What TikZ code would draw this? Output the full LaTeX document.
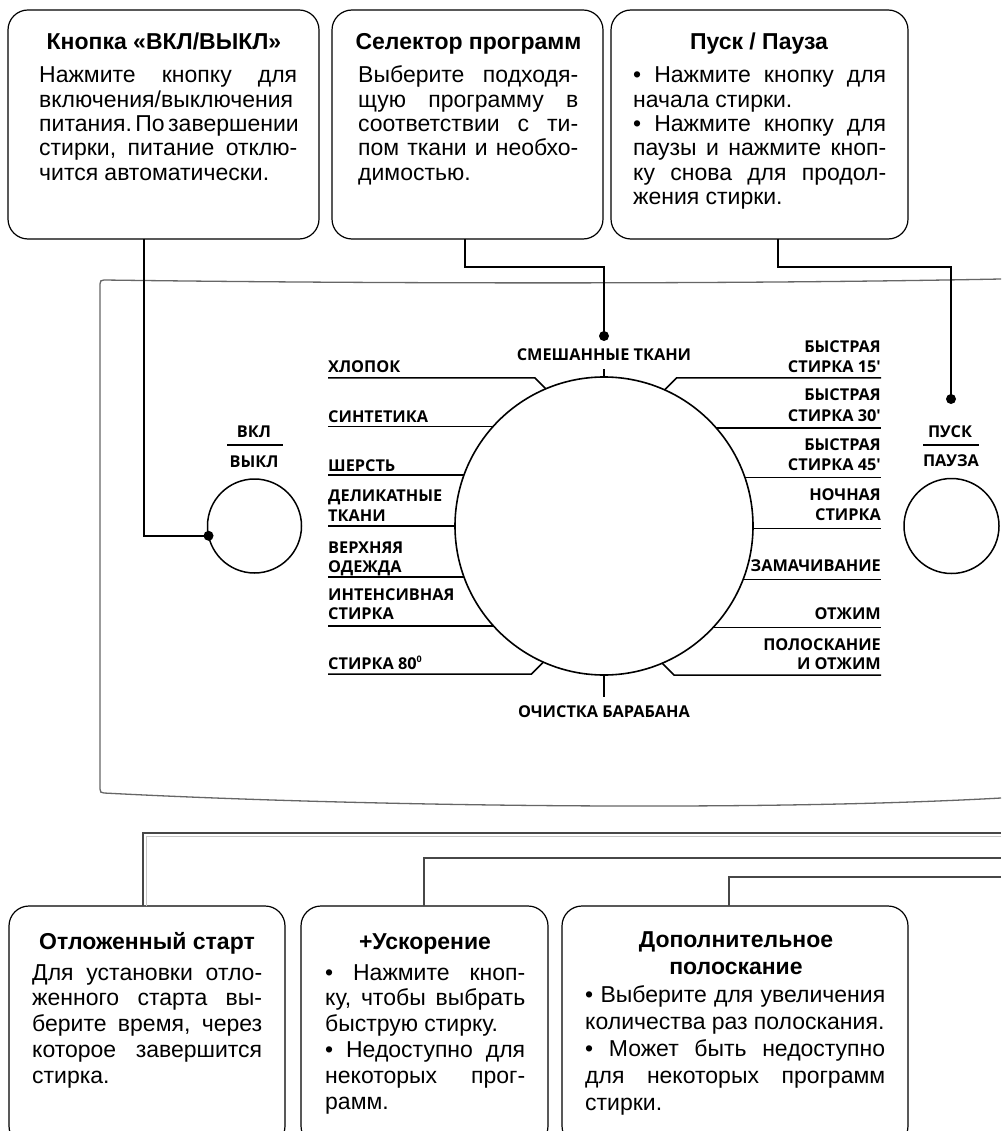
\documentclass[tikz,border=0pt]{standalone}
\usepackage{fontspec}
\setmainfont{Liberation Sans}
\newfontfamily\dialfont{Open Sans}
\newcommand\bodysetup{\tolerance=10000 \hyphenpenalty=10000 \frenchspacing\parindent=0pt \spaceskip=0.27em plus 0.8em minus 0.12em }
\begin{document}
\begin{tikzpicture}[x=1pt,y=-1pt,
  box/.style={draw, line width=1.2pt, rounded corners=20pt, inner sep=0pt, outer sep=0pt, anchor=north west},
  ttl/.style={font={\bfseries\fontsize{23}{24}\selectfont}, anchor=base, inner sep=0pt},
  bodytxt/.style={font={\fontsize{23}{24.3}\selectfont\bodysetup}, align=justify, anchor=base west, inner sep=0pt},
  bodytxtb/.style={font={\fontsize{23}{25.8}\selectfont\bodysetup}, align=justify, anchor=base west, inner sep=0pt},
  bodytxtc/.style={font={\fontsize{23}{27}\selectfont\bodysetup}, align=justify, anchor=base west, inner sep=0pt},
  lbl/.style={font={\dialfont\bfseries\fontsize{16.3}{19}\selectfont}, inner sep=0pt},
  lw/.style={lbl, anchor=base west},
  le/.style={lbl, anchor=base east},
  lc/.style={lbl, anchor=base},
  dline/.style={line width=1.6pt},
  conn/.style={line width=2pt},
  dot/.style={circle, fill, inner sep=0pt, minimum size=10pt},
  lowconn/.style={line width=1.5pt, black!72},
  lowlight/.style={line width=0.8pt, gray!45},
  panel/.style={line width=1.3pt, black!60},
  knob/.style={circle, draw, line width=1.5pt, inner sep=0pt, outer sep=0pt},
]
\fill[white] (0,0) rectangle (1001,1131);
\useasboundingbox (0,0) rectangle (1001,1131);
\clip (0,0) rectangle (1001,1131);

% panel outline
\draw[panel] (1001,279) .. controls (750,284) and (400,284) .. (104,280)
  .. controls (101,280) and (100,281) .. (100,284) -- (100,789)
  .. controls (100,792) and (101,793) .. (104,793)
  .. controls (350,806) and (750,812) .. (1001,798);

% top boxes
\node[box, minimum width=311pt, minimum height=229pt] (box1) at (8,10) {};
\node[box, minimum width=271pt, minimum height=229pt] (box2) at (332,10) {};
\node[box, minimum width=297pt, minimum height=229pt] (box3) at (611,10) {};

\node[ttl] (t1) at (164,50) {Кнопка «ВКЛ/ВЫКЛ»};
\node[bodytxt, text width=258pt] (b1) at (39,83) {Нажмите кнопку для\linebreak включения/выключения\linebreak питания.~По~завершении\linebreak стирки, питание отклю-\linebreak чится автоматически.};

\node[ttl] (t2) at (468.5,50) {Селектор программ};
\node[bodytxt, text width=220pt] (b2) at (358,83) {Выберите подходя-\linebreak щую программу в\linebreak соответствии с ти-\linebreak пом ткани и необхо-\linebreak димостью.};

\node[ttl] (t3) at (759,50) {Пуск / Пауза};
\node[bodytxt, text width=253pt] (b3) at (633,83) {• Нажмите кнопку для\linebreak начала стирки.\par • Нажмите кнопку для\linebreak паузы и нажмите кноп-\linebreak ку снова для продол-\linebreak жения стирки.};

% bottom boxes
\node[box, minimum width=276pt, minimum height=240pt] (box4) at (9,906) {};
\node[box, minimum width=247pt, minimum height=240pt] (box5) at (301,906) {};
\node[box, minimum width=346pt, minimum height=240pt] (box6) at (562,906) {};

\node[ttl] (t4) at (147,949) {Отложенный старт};
\node[bodytxtb, text width=230pt] (b4) at (32,980) {Для установки отло-\linebreak женного старта вы-\linebreak берите время, через\linebreak которое завершится\linebreak стирка.};

\node[ttl] (t5) at (425,949) {+Ускорение};
\node[bodytxtb, text width=200pt] (b5) at (325,980) {• Нажмите кноп-\linebreak ку, чтобы выбрать\linebreak быструю стирку.\par • Недоступно для\linebreak некоторых прог-\linebreak рамм.};

\node[ttl] (t6a) at (736,947) {Дополнительное};
\node[ttl] (t6b) at (736,974) {полоскание};
\node[bodytxtc, text width=300pt] (b6) at (585,1002) {• Выберите для увеличения\linebreak количества раз полоскания.\par • Может быть недоступно\linebreak для некоторых программ\linebreak стирки.};

% dial and knobs
\node[knob, line width=1.6pt, minimum size=298pt] (dial) at (604,526) {};
\node[knob, minimum size=94pt] (vkl) at (254.5,526) {};
\node[knob, minimum size=95pt] (pusk) at (951.5,526) {};

\node[lc] (vkltop) at (254,437) {ВКЛ};
\node[lc] (vklbot) at (254,467) {ВЫКЛ};
\draw[line width=1.5pt] (227,445) -- (283,445);
\node[lc] (pusktop) at (950,437) {ПУСК};
\node[lc] (puskbot) at (951,466) {ПАУЗА};
\draw[line width=1.5pt] (923,445) -- (979,445);

% dial labels left
\node[lw] (l1) at (328,372) {ХЛОПОК};
\node[lw] (l2) at (328,422) {СИНТЕТИКА};
\node[lw] (l3) at (328,471) {ШЕРСТЬ};
\node[lw] (l4a) at (328,501) {ДЕЛИКАТНЫЕ};
\node[lw] (l4b) at (328,521) {ТКАНИ};
\node[lw] (l5a) at (328,553) {ВЕРХНЯЯ};
\node[lw] (l5b) at (328,572) {ОДЕЖДА};
\node[lw] (l6a) at (328,600) {ИНТЕНСИВНАЯ};
\node[lw] (l6b) at (328,619) {СТИРКА};
\node[lw] (l7) at (328,669) {СТИРКА 80\raisebox{.75ex}{\fontsize{9}{9}\selectfont 0}};

% dial labels right
\node[le] (r1a) at (881,352) {БЫСТРАЯ};
\node[le] (r1b) at (881,372) {СТИРКА 15′};
\node[le] (r2a) at (881,400) {БЫСТРАЯ};
\node[le] (r2b) at (881,421) {СТИРКА 30′};
\node[le] (r3a) at (881,450) {БЫСТРАЯ};
\node[le] (r3b) at (881,470) {СТИРКА 45′};
\node[le] (r4a) at (881,500.5) {НОЧНАЯ};
\node[le] (r4b) at (881,520) {СТИРКА};
\node[le] (r5) at (881,571) {ЗАМАЧИВАНИЕ};
\node[le] (r6) at (881,619) {ОТЖИМ};
\node[le] (r7a) at (881,650) {ПОЛОСКАНИЕ};
\node[le] (r7b) at (881,669) {И ОТЖИМ};
\node[lc] (mix) at (604,360) {СМЕШАННЫЕ ТКАНИ};
\node[lc] (clean) at (604,717) {ОЧИСТКА БАРАБАНА};

% leader lines
\draw[dline] (dial.113.6) -- ++(-11,-11) coordinate (k1) -- (k1 -| l1.west);
\draw[dline] (dial.138.9) -- (dial.138.9 -| l2.west);
\draw[dline] (dial.160.8) -- (dial.160.8 -| l3.west);
\draw[dline] (dial.180.4) -- (dial.180.4 -| l4b.west);
\draw[dline] (dial.200.4) -- (dial.200.4 -| l5b.west);
\draw[dline] (dial.222.2) -- (dial.222.2 -| l6b.west);
\draw[dline] (dial.246.7) -- ++(-12,12) coordinate (k7) -- (k7 -| l7.west);
\draw[dline] (dial.66.7) -- ++(12,-12) coordinate (k8) -- (k8 -| r1b.east);
\draw[dline] (dial.41.1) -- (dial.41.1 -| r2b.east);
\draw[dline] (dial.19.2) -- (dial.19.2 -| r3b.east);
\draw[dline] (dial.359.6) -- (dial.359.6 -| r4b.east);
\draw[dline] (dial.339.6) -- (dial.339.6 -| r5.east);
\draw[dline] (dial.317.8) -- (dial.317.8 -| r6.east);
\draw[dline] (dial.293.3) -- ++(12,12) coordinate (k14) -- (k14 -| r7b.east);
\draw[dline] (dial.north) -- ++(0,-8);
\draw[dline] (dial.south) -- ++(0,22);

% top connectors
\node[dot] (d1) at (vkl.192.3) {};
\node[dot] (d2) at (604,336) {};
\node[dot] (d3) at (951,399) {};
\draw[conn] ([xshift=-20pt]box1.south) |- (d1.center);
\draw[conn] ([xshift=-2.5pt]box2.south) -- ++(0,28) -| (d2.center);
\draw[conn] ([xshift=18.5pt]box3.south) -- ++(0,28) -| (d3.center);

% bottom connectors
\coordinate (e1) at (1001,833);
\coordinate (e2) at (1001,858);
\coordinate (e3) at (1001,877);
\draw[lowlight] ([xshift=-0.5pt]box4.north) |- ([yshift=-3.5pt]e1);
\draw[lowconn] ([xshift=-4pt]box4.north) |- (e1);
\draw[lowconn] ([xshift=-0.5pt]box5.north) |- (e2);
\draw[lowconn] ([xshift=-6pt]box6.north) |- (e3);
\end{tikzpicture}
\end{document}
